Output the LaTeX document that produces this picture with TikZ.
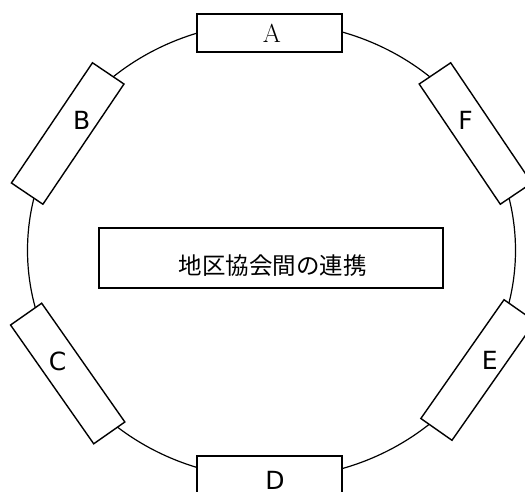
\documentclass[tikz,border=0pt]{standalone}
\usepackage{fontspec}
\newfontfamily\cjk{Noto Sans CJK JP}
\newfontfamily\lsans{DejaVu Sans}
\begin{document}
\begin{tikzpicture}[x=1pt,y=-1pt,
  member/.style={draw=black,line width=1.4pt,fill=white,minimum width=145pt,minimum height=38pt,inner sep=0pt},
  lab/.style={inner sep=0pt,anchor=center,font=\lsans\fontsize{25}{25}\selectfont},
  ring/.style={draw=black,line width=1.2pt}]
\useasboundingbox (0,0) rectangle (525,491);
\clip (0,0) rectangle (525,491);
\fill[white] (0,0) rectangle (525,491);
\coordinate (o) at (271.5,250.3);
\draw[ring] (o) ellipse [x radius=244pt, y radius=228pt];
\node[member] (A) at (269.5,33) {};
\node[member,rotate=56] (B) at (67.7,133.5) {};
\node[member,rotate=-56] (F) at (475.5,133.5) {};
\node[member,rotate=-55] (C) at (67.7,373.5) {};
\node[member,rotate=55] (E) at (478,370) {};
\node[member] (D) at (269.5,475) {};
\node[inner sep=0pt,font=\fontsize{26}{26}\selectfont] (la) at (272,33) {A};
\node[lab] (lb) at (81.7,120) {B};
\node[lab] (lf) at (465.5,120) {F};
\node[lab] (lc) at (57.5,361) {C};
\node[lab] (le) at (489.7,360) {E};
\node[lab] (ld) at (275,480) {D};
\node[draw=black,line width=1.6pt,minimum width=344pt,minimum height=60pt,inner sep=0pt] (center) at (271,258) {};
\node[inner sep=0pt,font=\cjk\fontsize{23.5}{23.5}\selectfont] (ct) at (272.5,266) {地区協会間の連携};
\end{tikzpicture}
\end{document}
